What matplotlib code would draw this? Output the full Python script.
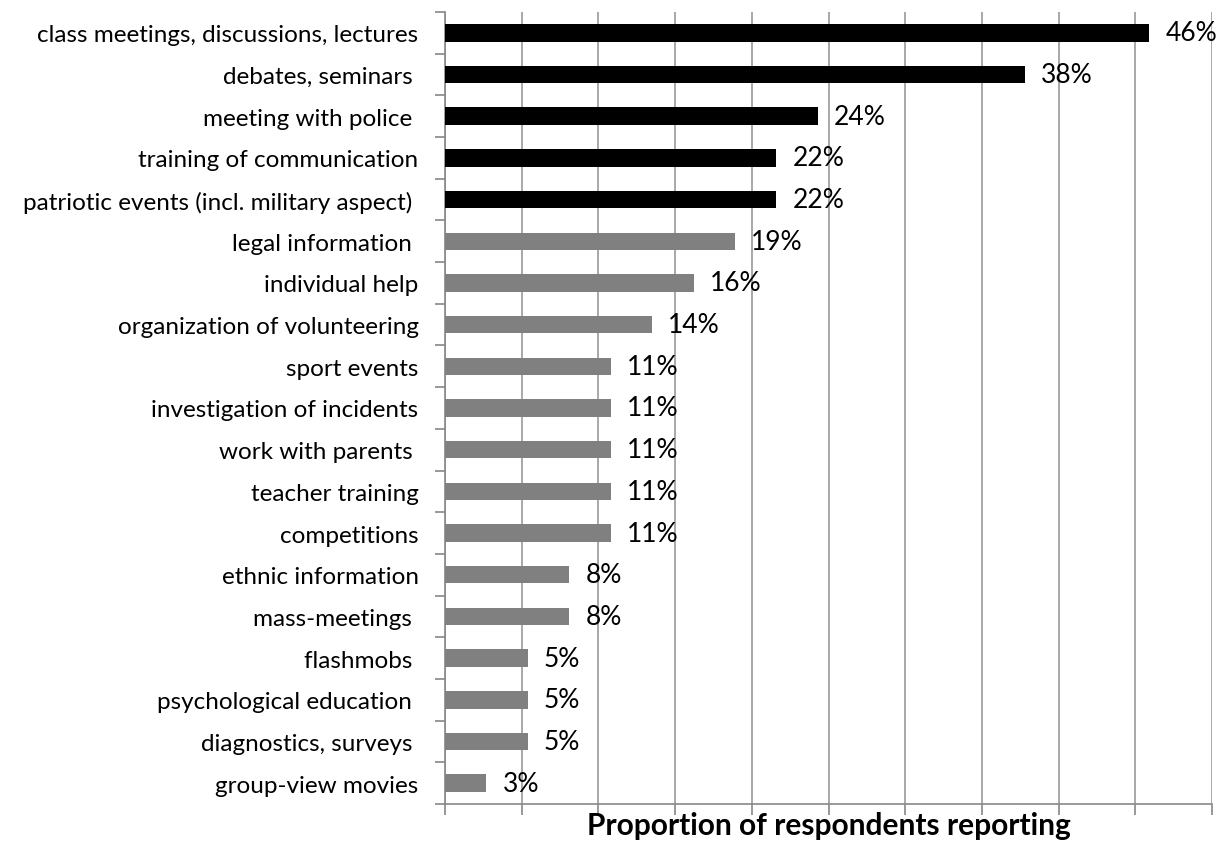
import matplotlib.pyplot as plt

plt.rcParams['font.family'] = ['Lato', 'DejaVu Sans']

# Activities, top to bottom, and share of respondents reporting each (%)
activities = [
    'class meetings, discussions, lectures',
    'debates, seminars ',
    'meeting with police ',
    'training of communication',
    'patriotic events (incl. military aspect) ',
    'legal information ',
    'individual help',
    'organization of volunteering',
    'sport events',
    'investigation of incidents',
    'work with parents ',
    'teacher training',
    'competitions',
    'ethnic information',
    'mass-meetings ',
    'flashmobs ',
    'psychological education ',
    'diagnostics, surveys ',
    'group-view movies',
]
shares = [45.9, 37.8, 24.3, 21.6, 21.6, 18.9, 16.2, 13.5, 10.8, 10.8,
          10.8, 10.8, 10.8, 8.1, 8.1, 5.4, 5.4, 5.4, 2.7]
# first five are the most frequent activities, drawn in black
n_top = 5

colors = ['#000000' if i < n_top else '#808080' for i in range(len(shares))]

fig = plt.figure(figsize=(12.32, 8.45), dpi=100)
ax = fig.add_axes([445 / 1232, 40 / 845, 767 / 1232, 792 / 845])

y = list(range(len(shares)))
ax.barh(y, shares, height=0.42, color=colors, zorder=3)

for yi, v in zip(y, shares):
    ax.text(v + 1.05, yi, f'{v:.0f}%', va='center', ha='left', fontsize=19, zorder=4)

ax.set_xlim(0, 50)
ax.set_ylim(len(shares) - 0.5, -0.5)
ax.set_xticks(range(0, 51, 5))
ax.set_xticklabels([])
ax.set_yticks(y)
ax.set_yticklabels(activities, fontsize=17.5)
ax.set_yticks([i - 0.5 for i in range(len(shares) + 1)], minor=True)
ax.tick_params(axis='y', which='major', length=0, pad=19)
ax.tick_params(axis='y', which='minor', length=7, color='#888888', width=1.2)
ax.tick_params(axis='x', length=8, color='#888888', width=1.2)

ax.grid(axis='x', color='#999999', linewidth=1.2, zorder=0)
for side in ['top', 'right']:
    ax.spines[side].set_visible(False)
for side in ['left', 'bottom']:
    ax.spines[side].set_color('#888888')
    ax.spines[side].set_linewidth(1.2)

fig.text((445 + 1212) / 2 / 1232, 1 - 835 / 845, 'Proportion of respondents reporting',
         ha='center', va='baseline', fontsize=21.5, fontweight='bold')

fig.savefig('out.png', dpi=100)
